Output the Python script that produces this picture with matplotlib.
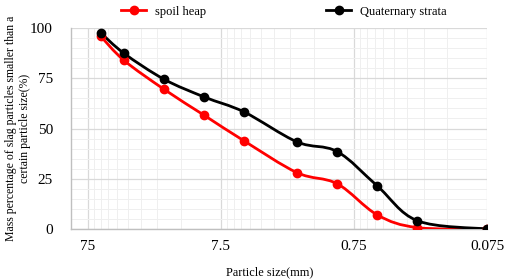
import numpy as np
import matplotlib
matplotlib.use('Agg', force=True)
import matplotlib.pyplot as plt
from matplotlib.path import Path
from matplotlib.patches import PathPatch
from matplotlib.lines import Line2D
from matplotlib.ticker import FixedLocator, NullFormatter, MultipleLocator

plt.rcParams['font.family'] = ['Liberation Serif', 'DejaVu Serif']

# sieve sizes (mm) and cumulative passing (%)
sizes = [60, 40, 20, 10, 5, 2, 1, 0.5, 0.25, 0.075]
spoil_heap = [96.0, 83.9, 69.5, 56.6, 43.8, 28.0, 22.5, 7.0, 0.7, 0.0]
quaternary = [97.7, 87.4, 74.5, 65.7, 58.2, 43.3, 38.5, 21.4, 4.1, 0.0]

x_ticks = [75, 7.5, 0.75, 0.075]
x_tick_labels = ['75', '7.5', '0.75', '0.075']


def smooth_path(xs, ys):
    # smoothed line (bezier through the points) built in log-x space
    pts = np.column_stack([np.log10(xs), np.asarray(ys, float)])
    n = len(pts)
    verts = [pts[0]]
    codes = [Path.MOVETO]
    for i in range(n - 1):
        p0 = pts[max(i - 1, 0)]
        p1 = pts[i]
        p2 = pts[i + 1]
        p3 = pts[min(i + 2, n - 1)]
        verts += [p1 + (p2 - p0) / 6.0, p2 - (p3 - p1) / 6.0, p2]
        codes += [Path.CURVE4] * 3
    verts = np.array(verts)
    verts[:, 0] = 10 ** verts[:, 0]
    return Path(verts, codes)


fig = plt.figure(figsize=(5.05, 2.79), dpi=100)
ax = fig.add_axes([0.1406, 0.1792, 0.8238, 0.7204])

ax.set_xscale('log')
ax.set_xlim(100, 0.075)
ax.set_ylim(0, 100)

ax.xaxis.set_major_locator(FixedLocator(x_ticks))
ax.set_xticklabels(x_tick_labels)
minor = [0.075 * k * 10 ** e for e in range(4) for k in range(2, 10)]
ax.xaxis.set_minor_locator(FixedLocator([m for m in minor if m < 100]))
ax.xaxis.set_minor_formatter(NullFormatter())
ax.yaxis.set_major_locator(MultipleLocator(25))
ax.yaxis.set_minor_locator(MultipleLocator(5))

ax.grid(which='major', color='#d9d9d9', lw=0.9)
ax.grid(which='minor', color='#efefef', lw=0.7)
ax.set_axisbelow(True)
ax.tick_params(which='both', length=0, labelsize=11)
ax.tick_params(axis='y', pad=13)
ax.tick_params(axis='x', pad=8)
for s in ['top', 'right']:
    ax.spines[s].set_visible(False)
for s in ['left', 'bottom']:
    ax.spines[s].set_color('#bfbfbf')
    ax.spines[s].set_linewidth(1.0)

for ys, col in [(spoil_heap, '#ff0000'), (quaternary, '#000000')]:
    ax.add_patch(PathPatch(smooth_path(sizes, ys), facecolor='none',
                           edgecolor=col, lw=2, zorder=3))
    ax.plot(sizes, ys, 'o', color=col, ms=6, zorder=4)

ax.set_xlabel('Particle size(mm)', fontsize=8.8)
ax.xaxis.set_label_coords(0.478, -0.185)
ax.set_ylabel('Mass percentage of slag particles smaller than a\ncertain particle size(%)',
              fontsize=8.5, linespacing=1.3)
ax.yaxis.set_label_coords(-0.095, 0.5)

handles = [Line2D([], [], color='#ff0000', lw=2, marker='o', ms=6),
           Line2D([], [], color='#000000', lw=2, marker='o', ms=6)]
fig.legend(handles, ['spoil heap', 'Quaternary strata'], loc='upper center',
           bbox_to_anchor=(0.562, 1.02), ncol=2, frameon=False, fontsize=9,
           handlelength=2, handletextpad=0.7, columnspacing=9.6)

fig.savefig('out.png', dpi=100)
